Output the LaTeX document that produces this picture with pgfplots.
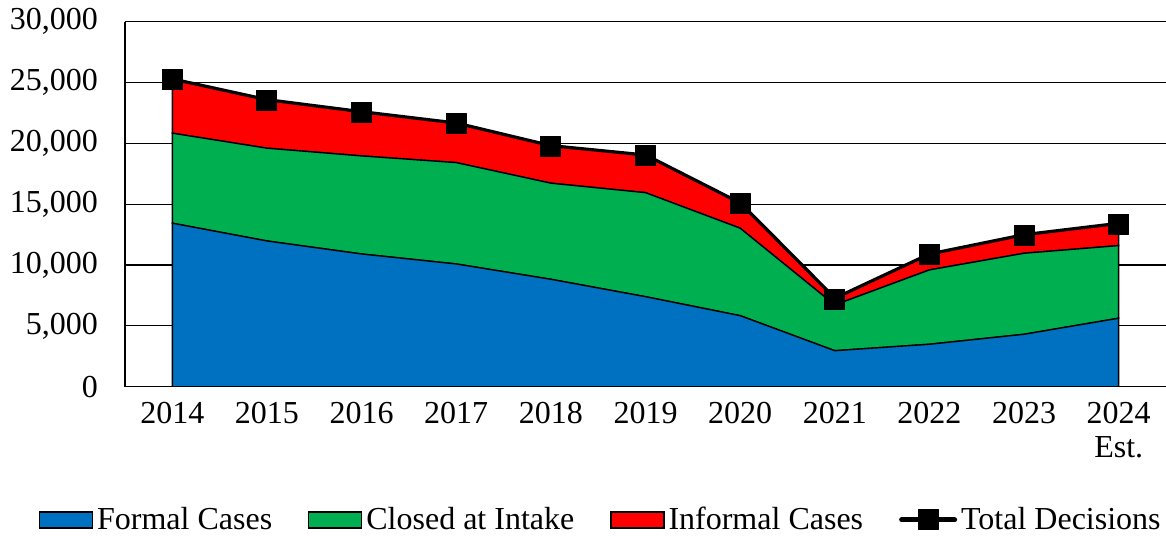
\documentclass[border=0pt]{standalone}
\usepackage{fontspec}
\setmainfont{Liberation Serif}
\usepackage{pgfplots}
\pgfplotsset{compat=1.18}
\definecolor{cblue}{HTML}{0070C0}
\definecolor{cgreen}{HTML}{00B050}
\definecolor{cred}{HTML}{FF0000}
\pgfplotsset{
  arealeg/.style={legend image code/.code={\draw[##1, draw=black, line width=0.6pt] (0pt,-4pt) rectangle (26.5pt,4pt);}},
  lineleg/.style={legend image code/.code={\draw[##1, line cap=round, mark repeat=2, mark phase=2] plot coordinates {(0pt,0pt) (13.25pt,0pt) (26.5pt,0pt)};}},
}
\begin{document}
\begin{tikzpicture}
\useasboundingbox (0,0) rectangle (583pt,268.5pt);
\begin{axis}[
  at={(62.5pt,75.15pt)}, anchor=south west,
  scale only axis, width=520.5pt, height=182.5pt,
  xmin=-0.5, xmax=10.5, ymin=0, ymax=30000,
  axis x line*=bottom, axis y line*=left,
  axis line style={black, line width=0.7pt},
  ytick={0,5000,10000,15000,20000,25000,30000},
  ymajorgrids, grid style={black, line width=0.6pt},
  xtick={0,1,2,3,4,5,6,7,8,9,10},
  xticklabels={2014,2015,2016,2017,2018,2019,2020,2021,2022,2023,{2024\\Est.}},
  xticklabel style={align=center, yshift=-4pt},
  yticklabel style={xshift=-10pt},
  tick style={draw=none},
  scaled y ticks=false,
  /pgf/number format/fixed,
  /pgf/number format/1000 sep={,},
  /pgf/number format/assume math mode=true,
  font=\fontsize{16pt}{17pt}\selectfont,
  stack plots=y,
  legend columns=4,
  legend style={at={(0.458,-0.365)}, anchor=center, draw=none, fill=none,
    font=\fontsize{16pt}{17pt}\selectfont,
    /tikz/every even column/.append style={column sep=16pt}},
  legend cell align=left,
]
\addplot[fill=cblue, draw=black, line width=0.7pt, arealeg]
  coordinates {(0,13440) (1,11980) (2,10910) (3,10090) (4,8830) (5,7400) (6,5840) (7,2960) (8,3490) (9,4310) (10,5630)} \closedcycle;
\addlegendentry{Formal Cases}
\addplot[fill=cgreen, draw=black, line width=0.7pt, arealeg]
  coordinates {(0,7400) (1,7625) (2,8060) (3,8330) (4,7900) (5,8550) (6,7190) (7,3760) (8,6110) (9,6660) (10,5970)} \closedcycle;
\addlegendentry{Closed at Intake}
\addplot[fill=cred, draw=black, line width=0.7pt, arealeg]
  coordinates {(0,4380) (1,3915) (2,3560) (3,3180) (4,3010) (5,3020) (6,1995) (7,470) (8,1230) (9,1450) (10,1755)} \closedcycle;
\addlegendentry{Informal Cases}
\addplot[stack plots=false, black, line width=2.5pt, line join=round, mark=square*, mark size=5pt,
  mark options={fill=black, line width=0.5pt}, lineleg]
  coordinates {(0,25220) (1,23520) (2,22530) (3,21600) (4,19740) (5,18970) (6,15025) (7,7190) (8,10830) (9,12420) (10,13355)};
\addlegendentry{Total Decisions}
\end{axis}
\end{tikzpicture}
\end{document}
